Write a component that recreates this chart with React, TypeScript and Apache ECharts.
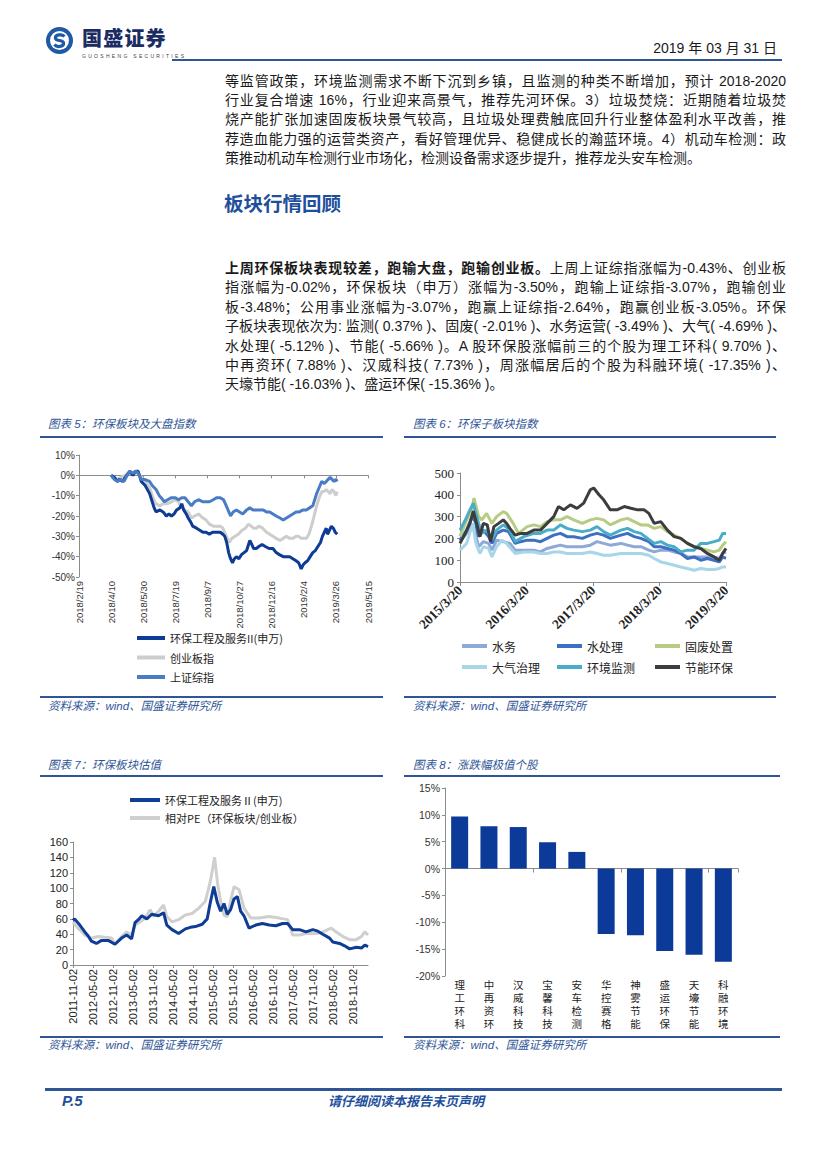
import React, { useEffect, useRef } from "react";
import * as echarts from "echarts";

const CJK = '"Noto Sans CJK SC", sans-serif';
const SANS = '"Liberation Sans", "Noto Sans CJK SC", sans-serif';
const SERIF = '"Liberation Serif", "Noto Sans CJK SC", serif';
const BLUE = "#2F5597";
const TEXT = "#1a1a1a";

// ---------- Page text ----------
const para1 = [
  "等监管政策，环境监测需求不断下沉到乡镇，且监测的种类不断增加，预计 2018-2020",
  "行业复合增速 16%，行业迎来高景气，推荐先河环保。3）垃圾焚烧：近期随着垃圾焚",
  "烧产能扩张加速固废板块景气较高，且垃圾处理费触底回升行业整体盈利水平改善，推",
  "荐造血能力强的运营类资产，看好管理优异、稳健成长的瀚蓝环境。4）机动车检测：政",
  "策推动机动车检测行业市场化，检测设备需求逐步提升，推荐龙头安车检测。",
];
const para2Bold = "上周环保板块表现较差，跑输大盘，跑输创业板。";
const para2 = [
  "上周上证综指涨幅为-0.43%、创业板",
  "指涨幅为-0.02%，环保板块（申万）涨幅为-3.50%，跑输上证综指-3.07%，跑输创业",
  "板-3.48%；公用事业涨幅为-3.07%，跑赢上证综指-2.64%，跑赢创业板-3.05%。环保",
  "子板块表现依次为: 监测( 0.37% )、固废( -2.01% )、水务运营( -3.49% )、大气( -4.69% )、",
  "水处理( -5.12% )、节能( -5.66% )。A 股环保股涨幅前三的个股为理工环科( 9.70% )、",
  "中再资环( 7.88% )、汉威科技( 7.73% )，周涨幅居后的个股为科融环境( -17.35% )、",
  "天壕节能( -16.03% )、盛运环保( -15.36% )。",
];

// ---------- Chart 5: 环保板块及大盘指数 (x = days since 2018/2/19, y = %) ----------
const c5Names = ["环保工程及服务II(申万)", "创业板指", "上证综指"];
const c5Colors = ["#0E3B93", "#CDCDCD", "#4A7CC6"];
const c5Start = Date.UTC(2018, 1, 19);
const c5Sector = [
  [50, 0], [55, -1], [60, -3], [63, -2], [68, -3], [72, -1], [79, 2], [84, 0], [88, 2], [92, 2],
  [95, -1], [97, -3], [103, -5], [110, -9], [114, -13], [117, -16], [120, -18], [126, -17], [131, -18],
  [136, -20], [140, -19], [144, -20], [148, -19], [152, -17], [157, -16], [160, -14], [163, -17],
  [167, -19], [170, -21], [174, -23], [177, -25], [183, -26], [188, -27], [193, -28], [198, -28],
  [203, -29], [208, -28], [214, -28], [220, -28], [224, -29], [227, -30], [230, -33], [233, -38],
  [236, -41], [239, -43], [242, -41], [245, -40], [249, -41], [253, -39], [257, -38], [261, -37],
  [264, -34], [266, -32], [269, -34], [272, -36], [276, -36], [280, -35], [285, -34], [290, -35],
  [296, -36], [302, -36], [307, -38], [312, -39], [318, -40], [323, -40], [328, -40], [333, -41],
  [338, -42], [342, -43], [346, -46], [349, -44], [352, -43], [356, -42], [360, -40], [364, -38],
  [368, -37], [372, -35], [376, -33], [379, -30], [382, -28], [385, -26], [387, -29], [390, -27],
  [393, -25], [396, -26], [399, -28], [402, -29],
];
const c5Gem = [
  [50, 0], [55, -1], [60, -2], [65, -1], [72, 0], [79, 2], [84, 1], [88, 2], [92, 1], [97, -1],
  [103, -3], [110, -6], [114, -10], [118, -13], [120, -14], [126, -15], [131, -14], [137, -14],
  [144, -13], [150, -12], [155, -13], [158, -15], [164, -17], [170, -18], [175, -21], [180, -20],
  [186, -19], [193, -21], [198, -22], [203, -24], [209, -25], [214, -25], [220, -25], [224, -26],
  [228, -29], [231, -31], [234, -33], [238, -31], [243, -30], [248, -29], [254, -27], [259, -26],
  [264, -24], [268, -25], [272, -26], [276, -26], [280, -25], [286, -26], [292, -28], [297, -29],
  [302, -30], [307, -31], [313, -32], [318, -31], [323, -30], [328, -31], [333, -31], [338, -30],
  [342, -30], [346, -31], [350, -31], [354, -31], [358, -29], [362, -25], [366, -20], [370, -15],
  [374, -11], [378, -8], [381, -8], [385, -7], [388, -8], [391, -9], [394, -7], [397, -8], [400, -10],
  [402, -8],
];
const c5Sh = [
  [50, 0], [55, -2], [60, -3], [65, -2], [70, -3], [75, 0], [79, 2], [84, 1], [88, 2], [92, 1],
  [97, -2], [102, -2], [110, -3], [114, -5], [120, -7], [125, -10], [128, -11], [133, -13], [138, -12],
  [144, -11], [150, -11], [155, -12], [160, -11], [165, -11], [170, -13], [175, -15], [180, -13],
  [186, -12], [193, -13], [198, -13], [203, -13], [209, -12], [214, -11], [220, -11], [225, -12],
  [228, -14], [232, -17], [236, -20], [240, -18], [245, -17], [250, -18], [255, -19], [261, -17],
  [266, -16], [271, -17], [276, -17], [282, -17], [287, -17], [292, -18], [297, -18], [302, -19],
  [307, -20], [313, -21], [318, -22], [323, -21], [328, -20], [333, -19], [338, -18], [343, -18],
  [349, -17], [354, -17], [359, -16], [364, -15], [367, -12], [370, -9], [374, -6], [378, -3],
  [382, -4], [385, -3], [388, -2], [391, -1], [394, -2], [397, -3], [400, -2], [402, -3],
];

// ---------- Chart 6: 环保子板块指数 (x = years since 2015/3/20) ----------
const c6Names = ["水务", "水处理", "固废处置", "大气治理", "环境监测", "节能环保"];
const c6Colors = ["#8EA8D8", "#3D6FC2", "#B5CC82", "#A6D6E8", "#4BACC8", "#3D3D3D"];
const c6Water = [
  [0, 185], [0.1, 223], [0.18, 262], [0.23, 223], [0.28, 162], [0.35, 185], [0.43, 177], [0.48, 146],
  [0.55, 192], [0.65, 185], [0.75, 177], [0.83, 146], [0.96, 146], [1.11, 146], [1.21, 138], [1.31, 154],
  [1.41, 162], [1.51, 169], [1.61, 162], [1.71, 162], [1.84, 162], [1.96, 169], [2.06, 185], [2.16, 177],
  [2.26, 169], [2.42, 177], [2.52, 169], [2.62, 162], [2.72, 162], [2.84, 146], [2.92, 138], [3.02, 146],
  [3.12, 146], [3.22, 138], [3.32, 131], [3.42, 115], [3.52, 115], [3.62, 115], [3.72, 115], [3.82, 115],
  [3.9, 108], [3.95, 131], [4.0, 138],
];
const c6WaterTreat = [
  [0, 192], [0.1, 238], [0.18, 300], [0.23, 277], [0.28, 208], [0.35, 238], [0.43, 208], [0.48, 177],
  [0.55, 223], [0.65, 238], [0.73, 231], [0.83, 177], [0.91, 185], [1.01, 192], [1.11, 192], [1.21, 185],
  [1.31, 200], [1.41, 215], [1.51, 223], [1.61, 208], [1.71, 208], [1.84, 200], [1.96, 215], [2.06, 223],
  [2.16, 215], [2.26, 200], [2.42, 215], [2.52, 223], [2.62, 208], [2.72, 200], [2.84, 185], [2.92, 162],
  [3.02, 162], [3.12, 154], [3.22, 146], [3.32, 131], [3.42, 108], [3.52, 115], [3.62, 100], [3.72, 108],
  [3.82, 100], [3.9, 92], [3.95, 115], [4.0, 108],
];
const c6SolidWaste = [
  [0, 208], [0.1, 285], [0.18, 330], [0.21, 385], [0.28, 300], [0.33, 285], [0.4, 315], [0.48, 269],
  [0.55, 300], [0.65, 323], [0.7, 315], [0.8, 269], [0.88, 223], [1.01, 254], [1.11, 262], [1.21, 254],
  [1.31, 277], [1.41, 285], [1.51, 285], [1.61, 300], [1.71, 285], [1.84, 269], [1.96, 285], [2.06, 292],
  [2.16, 285], [2.26, 262], [2.42, 285], [2.52, 292], [2.62, 277], [2.72, 262], [2.82, 262], [2.92, 246],
  [3.02, 254], [3.12, 231], [3.22, 215], [3.32, 200], [3.42, 177], [3.52, 162], [3.62, 154], [3.72, 146],
  [3.82, 138], [3.9, 146], [3.95, 169], [4.0, 185],
];
const c6Air = [
  [0, 146], [0.1, 177], [0.19, 269], [0.24, 177], [0.3, 131], [0.35, 162], [0.43, 154], [0.48, 115],
  [0.55, 162], [0.63, 192], [0.7, 177], [0.83, 131], [0.96, 138], [1.11, 138], [1.21, 131], [1.31, 131],
  [1.41, 138], [1.51, 138], [1.61, 131], [1.71, 131], [1.84, 131], [1.96, 138], [2.06, 131], [2.16, 123],
  [2.26, 123], [2.42, 131], [2.52, 131], [2.62, 131], [2.72, 131], [2.84, 123], [2.92, 108], [3.02, 92],
  [3.12, 85], [3.22, 77], [3.32, 69], [3.42, 62], [3.52, 54], [3.62, 62], [3.72, 57], [3.82, 57],
  [3.9, 62], [3.95, 69], [4.0, 69],
];
const c6Monitor = [
  [0, 238], [0.08, 285], [0.15, 331], [0.2, 362], [0.28, 269], [0.33, 223], [0.4, 238], [0.48, 192],
  [0.55, 238], [0.65, 262], [0.75, 238], [0.83, 185], [0.96, 208], [1.11, 223], [1.21, 223], [1.31, 238],
  [1.41, 238], [1.51, 262], [1.61, 246], [1.71, 238], [1.84, 231], [1.96, 238], [2.06, 254], [2.16, 231],
  [2.26, 215], [2.42, 238], [2.52, 246], [2.62, 231], [2.72, 223], [2.82, 200], [2.92, 177], [3.02, 185],
  [3.12, 169], [3.22, 162], [3.32, 138], [3.42, 146], [3.52, 146], [3.62, 177], [3.72, 177], [3.82, 185],
  [3.9, 192], [3.95, 223], [4.0, 223],
];
const c6Energy = [
  [0, 177], [0.08, 223], [0.15, 269], [0.2, 325], [0.25, 269], [0.3, 208], [0.35, 269], [0.41, 262],
  [0.46, 185], [0.51, 254], [0.58, 269], [0.65, 285], [0.7, 269], [0.75, 246], [0.83, 215], [0.91, 223],
  [1.01, 223], [1.11, 238], [1.21, 238], [1.31, 269], [1.41, 300], [1.48, 346], [1.56, 331], [1.66, 354],
  [1.76, 338], [1.86, 362], [1.96, 423], [2.01, 431], [2.09, 400], [2.16, 377], [2.26, 331], [2.36, 331],
  [2.47, 346], [2.57, 338], [2.67, 331], [2.77, 331], [2.84, 315], [2.92, 269], [3.02, 277], [3.12, 238],
  [3.22, 208], [3.32, 200], [3.42, 177], [3.52, 162], [3.62, 154], [3.72, 131], [3.82, 115], [3.9, 100],
  [3.95, 131], [4.0, 154],
];
const c6Series = [c6Water, c6WaterTreat, c6SolidWaste, c6Air, c6Monitor, c6Energy];

// ---------- Chart 7: 环保板块估值 (x = half-years since 2011-11-02) ----------
const c7Names = ["环保工程及服务Ⅱ(申万)", "相对PE（环保板块/创业板）"];
const c7Colors = ["#0F3D96", "#CFCFCF"];
const c7Sector = [
  [0, 58], [0.08, 60], [0.34, 52], [0.59, 43], [0.75, 38], [0.92, 31], [1.17, 28], [1.43, 32], [1.76, 32],
  [2.1, 27], [2.43, 35], [2.68, 39], [2.93, 34], [3.1, 55], [3.27, 59], [3.44, 64], [3.69, 60], [3.94, 66],
  [4.28, 64], [4.53, 68], [4.69, 52], [4.95, 46], [5.28, 41], [5.62, 47], [5.87, 49], [6.12, 50], [6.46, 53],
  [6.71, 60], [6.87, 82], [7.04, 102], [7.21, 82], [7.38, 70], [7.55, 80], [7.71, 66], [7.88, 72], [8.05, 86],
  [8.22, 89], [8.38, 70], [8.55, 64], [8.8, 48], [9.14, 52], [9.47, 54], [9.81, 52], [10.14, 51], [10.48, 54],
  [10.73, 54], [10.98, 46], [11.32, 46], [11.65, 43], [11.99, 46], [12.24, 44], [12.49, 40], [12.83, 35],
  [12.99, 30], [13.33, 28], [13.58, 25], [13.83, 21], [14.17, 23], [14.42, 22], [14.59, 26], [14.75, 24],
];
const c7RelPE = [
  [0, 56], [0.25, 48], [0.59, 39], [0.92, 35], [1.26, 37], [1.59, 36], [1.93, 35], [2.1, 27], [2.43, 37],
  [2.68, 43], [2.93, 39], [3.1, 52], [3.35, 56], [3.61, 61], [3.86, 72], [4.02, 63], [4.28, 70], [4.53, 78],
  [4.69, 63], [4.95, 56], [5.28, 59], [5.62, 65], [5.95, 67], [6.29, 74], [6.62, 83], [6.87, 109],
  [7.08, 140], [7.24, 104], [7.38, 83], [7.55, 65], [7.71, 63], [7.88, 83], [8.05, 102], [8.3, 98],
  [8.55, 74], [8.89, 61], [9.31, 61], [9.81, 63], [10.31, 61], [10.73, 59], [10.98, 39], [11.32, 39],
  [11.65, 41], [12.16, 41], [12.49, 43], [12.91, 48], [13.16, 43], [13.5, 37], [13.83, 33], [14.17, 33],
  [14.42, 37], [14.59, 43], [14.75, 39],
];

// ---------- Chart 8: 涨跌幅极值个股 ----------
const c8Stocks = ["理工环科", "中再资环", "汉威科技", "宝馨科技", "安车检测", "华控赛格", "神雾节能", "盛运环保", "天壕节能", "科融环境"];
const c8Change = [9.7, 7.88, 7.73, 4.9, 3.1, -12.2, -12.4, -15.36, -16.03, -17.35];

// ---------- helpers ----------
const c5Fmt = (v: number) => {
  const d = new Date(c5Start + v * 86400000);
  return `${d.getUTCFullYear()}/${d.getUTCMonth() + 1}/${d.getUTCDate()}`;
};
const c6Fmt = (v: number) => (Number.isInteger(v) ? `${2015 + v}/3/20` : "");
const c7Fmt = (v: number) => {
  if (!Number.isInteger(v)) return "";
  const y = 2011 + Math.ceil(v / 2);
  return `${y}-${v % 2 === 0 ? "11" : "05"}-02`;
};
const AX = "#8c8c8c";

const lineSeries = (name: string, data: number[][], color: string, width: number, z = 2) => ({
  name,
  type: "line",
  data,
  showSymbol: false,
  symbol: "none",
  color,
  z,
  lineStyle: { width, color },
  itemStyle: { color },
});

const opt5 = {
  animation: false,
  grid: { left: 39, top: 15, width: 289, height: 122 },
  legend: {
    orient: "vertical", left: 97, top: 191, padding: 0, icon: "rect", itemWidth: 28, itemHeight: 4, itemGap: 5.5,
    textStyle: { fontFamily: CJK, fontSize: 11, color: "#222", lineHeight: 14 }, data: c5Names,
  },
  xAxis: [
    {
      type: "value", min: 0, max: 450, interval: 50, position: "bottom",
      axisLine: { show: false, onZero: false }, axisTick: { show: false }, splitLine: { show: false },
      axisLabel: { rotate: 90, fontSize: 9.5, fontFamily: SANS, color: "#333", margin: 4, formatter: c5Fmt },
    },
    {
      type: "value", min: 0, max: 450, interval: 50, position: "top",
      axisLine: { show: true, onZero: true, lineStyle: { color: AX, width: 1 } },
      axisTick: { show: true, inside: true, length: 3, lineStyle: { color: AX } },
      axisLabel: { show: false }, splitLine: { show: false },
    },
  ],
  yAxis: {
    type: "value", min: -50, max: 10, interval: 10,
    axisLine: { show: true, lineStyle: { color: AX } }, axisTick: { show: true, length: 3, lineStyle: { color: AX } },
    splitLine: { show: false },
    axisLabel: { formatter: "{value}%", fontSize: 10, fontFamily: SANS, color: "#333", margin: 4 },
  },
  series: [
    lineSeries(c5Names[0], c5Sector, c5Colors[0], 3, 3),
    lineSeries(c5Names[1], c5Gem, c5Colors[1], 3, 2),
    lineSeries(c5Names[2], c5Sh, c5Colors[2], 3, 4),
  ],
};

const c6Legend = (names: string[], left: number) => ({
  orient: "vertical", left, top: 199, padding: 0, icon: "rect", itemWidth: 25, itemHeight: 4, itemGap: 7,
  textStyle: { fontFamily: CJK, fontSize: 12, color: "#222", lineHeight: 14 }, data: names,
});

const opt6 = {
  animation: false,
  grid: { left: 57, top: 33, width: 266, height: 109 },
  legend: [
    c6Legend([c6Names[0], c6Names[3]], 59),
    c6Legend([c6Names[1], c6Names[4]], 154),
    c6Legend([c6Names[2], c6Names[5]], 252),
  ],
  xAxis: {
    type: "value", min: 0, max: 4, interval: 1,
    axisLine: { show: true, lineStyle: { color: AX } },
    axisTick: { show: true, length: 4, lineStyle: { color: AX } }, splitLine: { show: false },
    axisLabel: { rotate: 45, fontSize: 13.5, fontWeight: "bold", fontFamily: SERIF, color: "#222", margin: 6, formatter: c6Fmt },
  },
  yAxis: {
    type: "value", min: 0, max: 500, interval: 100,
    axisLine: { show: true, lineStyle: { color: AX } }, axisTick: { show: true, length: 3, lineStyle: { color: AX } },
    splitLine: { show: false },
    axisLabel: { fontSize: 13, fontFamily: SERIF, color: "#222", margin: 6 },
  },
  series: c6Series.map((d, i) => lineSeries(c6Names[i], d, c6Colors[i], 3, 2 + i)),
};

const opt7 = {
  animation: false,
  grid: { left: 33, top: 64, width: 295, height: 123 },
  legend: {
    orient: "vertical", left: 90, top: 15, padding: 0, icon: "rect", itemWidth: 30, itemHeight: 4, itemGap: 4,
    textStyle: { fontFamily: CJK, fontSize: 11, color: "#222", lineHeight: 14 }, data: c7Names,
  },
  xAxis: {
    type: "value", min: 0, max: 14.75, interval: 1,
    axisLine: { show: true, lineStyle: { color: AX } },
    axisTick: { show: true, length: 3, lineStyle: { color: AX } }, splitLine: { show: false },
    axisLabel: { rotate: 90, fontSize: 11, fontFamily: SANS, color: "#222", margin: 4, formatter: c7Fmt, showMaxLabel: false },
  },
  yAxis: {
    type: "value", min: 0, max: 160, interval: 20,
    axisLine: { show: true, lineStyle: { color: AX } }, axisTick: { show: true, length: 3, lineStyle: { color: AX } },
    splitLine: { show: false },
    axisLabel: { fontSize: 11, fontFamily: SANS, color: "#222", margin: 5 },
  },
  series: [
    lineSeries(c7Names[0], c7Sector, c7Colors[0], 3, 3),
    lineSeries(c7Names[1], c7RelPE, c7Colors[1], 3, 2),
  ],
};

const opt8 = {
  animation: false,
  grid: { left: 42, top: 8, width: 293, height: 188 },
  xAxis: [
    {
      type: "category", data: c8Stocks, position: "bottom",
      axisLine: { show: false, onZero: false }, axisTick: { show: false },
      axisLabel: {
        interval: 0, fontSize: 10.5, lineHeight: 13, fontFamily: CJK, color: "#222", margin: 2,
        formatter: (v: string) => v.split("").join("\n"),
      },
    },
    {
      type: "category", data: c8Stocks, position: "top",
      axisLine: { show: true, onZero: true, lineStyle: { color: AX } },
      axisTick: { show: true, inside: true, length: 4, lineStyle: { color: AX } },
      axisLabel: { show: false },
    },
  ],
  yAxis: {
    type: "value", min: -20, max: 15, interval: 5,
    axisLine: { show: true, lineStyle: { color: AX } }, axisTick: { show: true, length: 3, lineStyle: { color: AX } },
    splitLine: { show: false },
    axisLabel: { formatter: "{value}%", fontSize: 10.5, fontFamily: SANS, color: "#333", margin: 5 },
  },
  series: [
    { type: "bar", xAxisIndex: 0, data: c8Change, barWidth: 17, itemStyle: { color: "#0B3A98" } },
  ],
};

function Chart({ option, style }: { option: any; style: React.CSSProperties }) {
  const ref = useRef<HTMLDivElement>(null);
  useEffect(() => {
    const chart = echarts.init(ref.current as HTMLDivElement, null, { renderer: "svg" });
    chart.setOption(option);
    return () => chart.dispose();
  }, [option]);
  return <div ref={ref} style={{ position: "absolute", ...style }} />;
}

const abs = (s: React.CSSProperties): React.CSSProperties => ({ position: "absolute", ...s });

function Rule({ left, top, width, h = 2 }: { left: number; top: number; width: number; h?: number }) {
  return <div style={abs({ left, top, width, height: h, background: BLUE })} />;
}

function Caption({ left, top, text }: { left: number; top: number; text: string }) {
  return (
    <div style={abs({ left, top, fontFamily: SANS, fontStyle: "italic", fontSize: 11.5, lineHeight: "14px", color: BLUE, whiteSpace: "nowrap" })}>
      {text}
    </div>
  );
}

function ParaLine({ top, last, children }: { top: number; last?: boolean; children: React.ReactNode }) {
  return (
    <div
      style={abs({
        left: 225, top, width: 561, height: 19, fontFamily: SANS, fontSize: 14, lineHeight: "19px", color: TEXT,
        textAlign: "justify", textAlignLast: last ? "left" : "justify",
      } as React.CSSProperties)}
    >
      {children}
    </div>
  );
}

export default function App() {
  const src = "资料来源：wind、国盛证券研究所";
  return (
    <div style={abs({ left: 0, top: 0, width: 827, height: 1169, background: "#fff", overflow: "hidden" })}>
      {/* header */}
      <svg style={abs({ left: 46, top: 27, width: 27, height: 27 })} viewBox="0 0 27 27">
        <circle cx="13.5" cy="13.5" r="13.5" fill="#1F5AA6" />
        <circle cx="13.5" cy="13.5" r="9.5" fill="#fff" />
        <path d="M18.5 9.5 C 16 6.8, 9.2 7.4, 9.4 11.2 C 9.6 14.6, 17.6 12.4, 17.6 16.2 C 17.6 20, 10.8 20.6, 8.4 17.6" stroke="#1F5AA6" strokeWidth="3.2" fill="none" />
      </svg>
      <div style={abs({ left: 82, top: 27, fontFamily: CJK, fontWeight: 900, fontSize: 20, lineHeight: "22px", color: "#1B2C62", letterSpacing: 1.2, whiteSpace: "nowrap" })}>
        国盛证券
      </div>
      <div style={abs({ left: 82, top: 53, fontFamily: SANS, fontSize: 5, lineHeight: "6px", color: "#444", letterSpacing: 2.3, whiteSpace: "nowrap" })}>
        GUOSHENG SECURITIES
      </div>
      <div style={abs({ left: 560, top: 40, width: 217, textAlign: "right", fontFamily: SANS, fontSize: 14, lineHeight: "16px", color: TEXT, whiteSpace: "nowrap" })}>
        2019 年 03 月 31 日
      </div>
      <Rule left={172} top={59} width={610} />

      {/* paragraph 1 */}
      {para1.map((t, i) => (
        <ParaLine key={"p1" + i} top={72 + i * 19.2} last={i === para1.length - 1}>
          {t}
        </ParaLine>
      ))}

      {/* section title */}
      <div style={abs({ left: 224, top: 191, fontFamily: CJK, fontWeight: 700, fontSize: 19.5, lineHeight: "24px", color: "#1E4F9C", whiteSpace: "nowrap" })}>
        板块行情回顾
      </div>

      {/* paragraph 2 */}
      {para2.map((t, i) => (
        <ParaLine key={"p2" + i} top={259 + i * 19.4} last={i === para2.length - 1}>
          {i === 0 ? <b>{para2Bold}</b> : null}
          {t}
        </ParaLine>
      ))}

      {/* chart 5 */}
      <Caption left={48} top={417} text="图表 5：环保板块及大盘指数" />
      <Rule left={40} top={436} width={343} />
      <Chart option={opt5} style={{ left: 40, top: 440, width: 350, height: 255 }} />
      <Rule left={40} top={696} width={343} />
      <Caption left={48} top={699} text={src} />

      {/* chart 6 */}
      <Caption left={413} top={417} text="图表 6：环保子板块指数" />
      <Rule left={404} top={436} width={372} />
      <Chart option={opt6} style={{ left: 403, top: 440, width: 375, height: 255 }} />
      <Rule left={404} top={696} width={372} />
      <Caption left={413} top={699} text={src} />

      {/* chart 7 */}
      <Caption left={48} top={758} text="图表 7：环保板块估值" />
      <Rule left={40} top={775} width={343} />
      <Chart option={opt7} style={{ left: 40, top: 778, width: 350, height: 257 }} />
      <Rule left={40} top={1036} width={343} />
      <Caption left={48} top={1038} text={src} />

      {/* chart 8 */}
      <Caption left={413} top={758} text="图表 8：涨跌幅极值个股" />
      <Rule left={404} top={775} width={376} />
      <Chart option={opt8} style={{ left: 403, top: 780, width: 375, height: 255 }} />
      <Rule left={404} top={1036} width={376} />
      <Caption left={413} top={1038} text={src} />

      {/* footer */}
      <Rule left={45} top={1088} width={737} h={3} />
      <div style={abs({ left: 62, top: 1092, fontFamily: SANS, fontWeight: 700, fontStyle: "italic", fontSize: 15, lineHeight: "17px", color: "#1E4F9C" })}>
        P.5
      </div>
      <div style={abs({ left: 328, top: 1093, fontFamily: CJK, fontWeight: 700, fontStyle: "italic", fontSize: 13, lineHeight: "16px", color: "#1E4F9C", whiteSpace: "nowrap" })}>
        请仔细阅读本报告末页声明
      </div>
    </div>
  );
}
